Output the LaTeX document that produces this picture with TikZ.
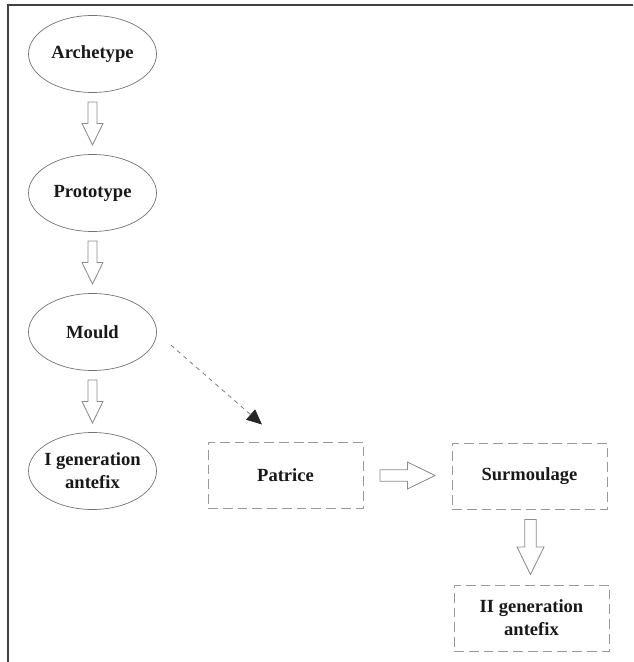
\documentclass[tikz,border=0pt]{standalone}
\usepackage{fontspec}
\setmainfont{Liberation Serif}
\usetikzlibrary{arrows.meta, calc, shapes.geometric}

\tikzset{
    blockarrow/.pic={
        \draw[draw=black!45, fill=white, line width=0.6pt] (-0.5375,0.1125) -- (0,0.1125) -- (0,0.2625) -- (0.5375,0) -- (0,-0.2625) -- (0,-0.1125) -- (-0.5375,-0.1125) -- cycle;
    }
}

\begin{document}
\begin{tikzpicture}[
    stage/.style={ellipse, draw=black!55, line width=0.5pt, minimum width=3.2cm, minimum height=1.925cm, inner sep=-3pt, align=center, text=black!90, font=\bfseries\fontsize{13.2}{16.4}\selectfont},
    copybox/.style={rectangle, draw=black!40, dash pattern=on 7pt off 3.5pt, line width=0.7pt, minimum width=3.875cm, minimum height=1.65cm, align=center, text=black!90, font=\bfseries\fontsize{13.2}{16.4}\selectfont}
]
    \useasboundingbox (0,0) rectangle (15.825,-16.55);
    % Frame
    \draw[black!75, line width=1pt] (15.825,-0.125) -- (0.2,-0.125) -- (0.2,-16.55);

    % Draw nodes
    \node[stage] (arche) at (2.3125,-1.35) {Archetype};
    \node[stage] (proto) at (2.3125,-4.825) {Prototype};
    \node[stage] (mould) at (2.3125,-8.3) {Mould};
    \node[stage] (first) at (2.3125,-11.775) {I generation\\antefix};
    \node[copybox] (patrice) at (7.1375,-11.875) {Patrice};
    \node[copybox] (surm) at (13.2375,-11.9) {Surmoulage};
    \node[copybox] (second) at (13.2875,-15.45) {II generation\\antefix};

    % Draw connections
    \pic[rotate=-90] at ($(arche.south)!0.5!(proto.north)$) {blockarrow};
    \pic[rotate=-90] at ($(proto.south)!0.5!(mould.north)$) {blockarrow};
    \pic[rotate=-90] at ($(mould.south)!0.5!(first.north)$) {blockarrow};
    \pic[scale=1.28] at ($(patrice.east)!0.5!(surm.west)$) {blockarrow};
    \pic[rotate=-90, scale=1.28] at ($(surm.south)!0.5!(second.north)$) {blockarrow};

    % Dashed link
    \coordinate (castfrom) at ($(mould.east)+(0.35,-0.325)$);
    \coordinate (castto) at ($(patrice.north)+(-0.5875,0.425)$);
    \draw[black!50, line width=0.6pt, dash pattern=on 3pt off 3pt, -{Triangle[length=0.38cm, width=0.34cm, color=black!85]}] (castfrom) -- (castto);
\end{tikzpicture}
\end{document}
